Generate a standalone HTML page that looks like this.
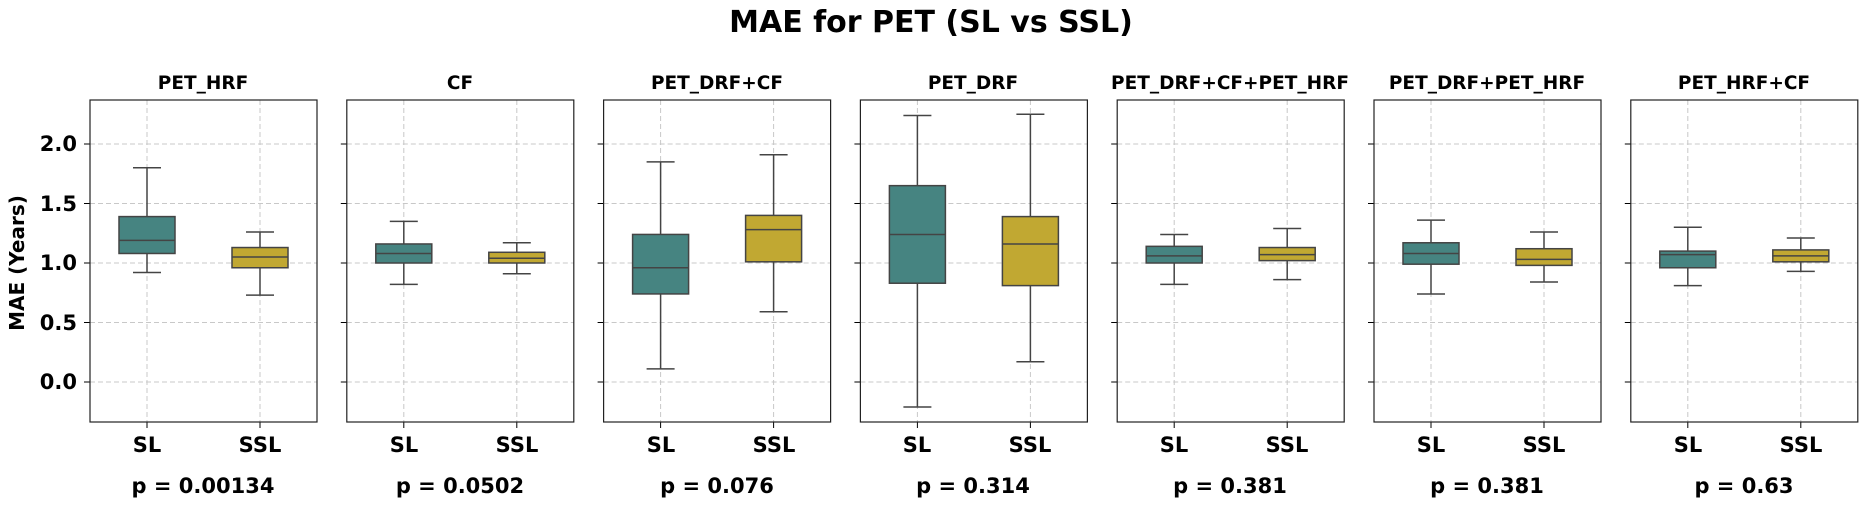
<!DOCTYPE html>
<html><head><meta charset="utf-8"><style>
body{margin:0;background:#fff}
svg text{font-family:"DejaVu Sans","Liberation Sans",sans-serif;font-weight:bold;fill:#000}
</style></head><body>
<svg id="s" width="1873" height="502" viewBox="0 0 1873 502" xmlns="http://www.w3.org/2000/svg">
<text x="931" y="32" font-size="30" text-anchor="middle">MAE for PET (SL vs SSL)</text>
<text transform="translate(24,263) rotate(-90)" font-size="20" text-anchor="middle">MAE (Years)</text>
<g font-size="21" text-anchor="end">
<text x="77" y="151">2.0</text>
<text x="77" y="211">1.5</text>
<text x="77" y="270">1.0</text>
<text x="77" y="330">0.5</text>
<text x="77" y="389">0.0</text>
</g>
<g font-size="18.5" text-anchor="middle">
<text x="203" y="89">PET_HRF</text>
<text x="460" y="89">CF</text>
<text x="717" y="89">PET_DRF+CF</text>
<text x="973" y="89">PET_DRF</text>
<text x="1230" y="89">PET_DRF+CF+PET_HRF</text>
<text x="1487" y="89">PET_DRF+PET_HRF</text>
<text x="1744" y="89">PET_HRF+CF</text>
</g>
<g font-size="21" text-anchor="middle">
<text x="147" y="452">SL</text><text x="260" y="452">SSL</text>
<text x="404" y="452">SL</text><text x="517" y="452">SSL</text>
<text x="661" y="452">SL</text><text x="774" y="452">SSL</text>
<text x="917" y="452">SL</text><text x="1030" y="452">SSL</text>
<text x="1174" y="452">SL</text><text x="1287" y="452">SSL</text>
<text x="1431" y="452">SL</text><text x="1544" y="452">SSL</text>
<text x="1688" y="452">SL</text><text x="1801" y="452">SSL</text>
</g>
<g font-size="21" text-anchor="middle">
<text x="203" y="493">p = 0.00134</text>
<text x="460" y="493">p = 0.0502</text>
<text x="717" y="493">p = 0.076</text>
<text x="973" y="493">p = 0.314</text>
<text x="1230" y="493">p = 0.381</text>
<text x="1487" y="493">p = 0.381</text>
<text x="1744" y="493">p = 0.63</text>
</g>
</svg>
<script>
const s=document.getElementById('s'),N='http://www.w3.org/2000/svg';
function el(t,a){const e=document.createElementNS(N,t);for(const k in a)e.setAttribute(k,a[k]);s.appendChild(e);return e}
const Y=v=>382-v*119;
const D=[
[[0.92,1.08,1.19,1.39,1.80],[0.73,0.96,1.05,1.13,1.26]],
[[0.82,1.0,1.08,1.16,1.35],[0.91,1.0,1.04,1.09,1.17]],
[[0.11,0.74,0.96,1.24,1.85],[0.59,1.01,1.28,1.40,1.91]],
[[-0.21,0.83,1.24,1.65,2.24],[0.17,0.81,1.16,1.39,2.25]],
[[0.82,1.0,1.06,1.14,1.24],[0.86,1.02,1.07,1.13,1.29]],
[[0.74,0.99,1.08,1.17,1.36],[0.84,0.98,1.03,1.12,1.26]],
[[0.81,0.96,1.07,1.10,1.30],[0.93,1.01,1.06,1.11,1.21]]];
const cols=['#468481','#c1a832'];
for(let i=0;i<7;i++){
 const x0=90+i*256.8,w=227;
 for(const v of [0,0.5,1,1.5,2]){el('line',{x1:x0,x2:x0+w,y1:Y(v),y2:Y(v),stroke:'#c8c8c8','stroke-dasharray':'5,3'});
  el('line',{x1:x0-6,x2:x0,y1:Y(v),y2:Y(v),stroke:'#000'});}
 [57,170].forEach((o,j)=>{const cx=x0+o;
  el('line',{x1:cx,x2:cx,y1:100,y2:422,stroke:'#c8c8c8','stroke-dasharray':'5,3'});
  el('line',{x1:cx,x2:cx,y1:422,y2:428,stroke:'#000'});
  const d=D[i][j];
  el('line',{x1:cx,x2:cx,y1:Y(d[0]),y2:Y(d[4]),stroke:'#444','stroke-width':1.5});
  el('line',{x1:cx-14,x2:cx+14,y1:Y(d[0]),y2:Y(d[0]),stroke:'#444','stroke-width':1.5});
  el('line',{x1:cx-14,x2:cx+14,y1:Y(d[4]),y2:Y(d[4]),stroke:'#444','stroke-width':1.5});
  el('rect',{x:cx-28,y:Y(d[3]),width:56,height:Y(d[1])-Y(d[3]),fill:cols[j],stroke:'#444','stroke-width':1.5});
  el('line',{x1:cx-28,x2:cx+28,y1:Y(d[2]),y2:Y(d[2]),stroke:'#444','stroke-width':1.5});
 });
 el('rect',{x:x0,y:100,width:w,height:322,fill:'none',stroke:'#222','stroke-width':1.2});
}
</script>
</body></html>
